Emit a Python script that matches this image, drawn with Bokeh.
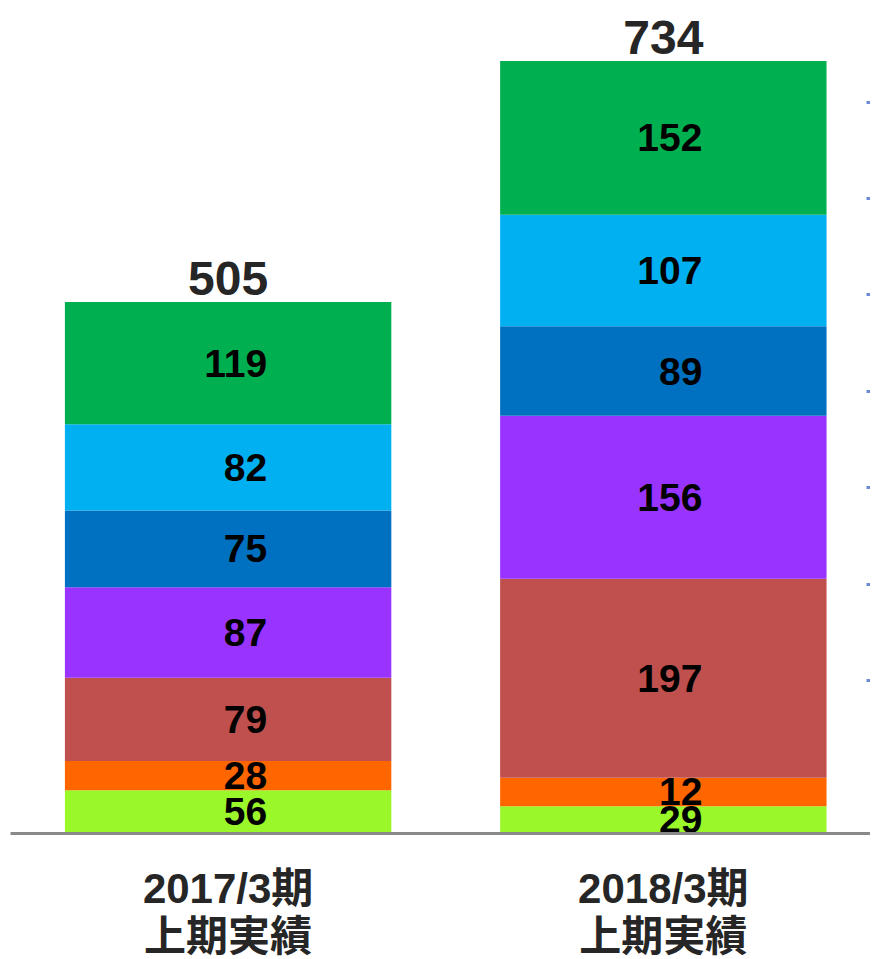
from bokeh.plotting import figure
from bokeh.models import Range1d, LinearAxis, FixedTicker, ColumnDataSource
from bokeh.core.properties import value
from bokeh.embed import file_html
from bokeh.resources import INLINE

# ---- data ----
periods = ["2017/3期\n上期実績", "2018/3期\n上期実績"]
totals = [505, 734]

# segment heights (bottom -> top)
lime_h = [41, 26]
orange_h = [28, 27]
red_h = [79, 189]
purple_h = [86, 155]
navy_h = [73, 85]
sky_h = [82, 106]
green_h = [116, 146]

# printed segment labels
lime_lbl = [56, 29]
orange_lbl = [28, 12]
red_lbl = [79, 197]
purple_lbl = [87, 156]
navy_lbl = [75, 89]
sky_lbl = [82, 107]
green_lbl = [119, 152]

right_ticks = [1, 2, 3, 4, 5, 6, 7, 8]

# ---- styling ----
colors = ["#9AF82A", "#FF6600", "#C0504D", "#9933FF", "#0070C0", "#00B0F0", "#00B050"]
FONT = "Liberation Sans, Noto Sans CJK JP"

heights = [lime_h, orange_h, red_h, purple_h, navy_h, sky_h, green_h]
labels = [lime_lbl, orange_lbl, red_lbl, purple_lbl, navy_lbl, sky_lbl, green_lbl]
keys = ["lime", "orange", "red", "purple", "navy", "sky", "green"]

xpos = [0.5 + i for i in range(len(periods))]
data = {"x": xpos}
for k, h in zip(keys, heights):
    data[k] = h
src = ColumnDataSource(data)

p = figure(frame_width=860, frame_height=825, output_backend="svg", toolbar_location=None,
           x_range=Range1d(0, 1.976), y_range=Range1d(0, 784),
           min_border_left=10, min_border_right=0, min_border_top=8, min_border_bottom=0)
p.outline_line_color = None
p.grid.visible = False
p.yaxis.visible = False

p.vbar_stack(keys, x="x", width=0.75, source=src, color=colors, line_color=None)

# segment labels
for i, (h, lbl) in enumerate(zip(heights, labels)):
    bottoms = [sum(heights[j][b] for j in range(i)) for b in range(len(periods))]
    mids = [bottoms[b] + h[b] / 2 for b in range(len(periods))]
    s = ColumnDataSource({"x": xpos, "y": mids, "t": [str(v) for v in lbl]})
    p.text(x="x", y="y", text="t", source=s, text_align="right", text_baseline="middle",
           x_offset=39, text_font=value(FONT), text_font_size="39px", text_font_style="bold",
           text_color="#000000")

# totals
ts = ColumnDataSource({"x": xpos, "y": [sum(heights[j][b] for j in range(len(heights))) for b in range(len(periods))],
                       "t": [str(v) for v in totals]})
p.text(x="x", y="y", text="t", source=ts, text_align="center", text_baseline="middle",
       y_offset=-24, text_font=value(FONT), text_font_size="48px", text_font_style="bold",
       text_color="#262626")

# x axis
xa = p.xaxis[0]
xa.ticker = FixedTicker(ticks=xpos)
xa.major_label_overrides = {x: lab for x, lab in zip(xpos, periods)}
xa.major_tick_line_color = None
xa.minor_tick_line_color = None
xa.axis_line_color = "#898989"
xa.axis_line_width = 3
xa.major_label_text_font = FONT
xa.major_label_text_font_size = "42px"
xa.major_label_text_line_height = 1.04
xa.major_label_text_font_style = "bold"
xa.major_label_text_color = "#262626"
xa.major_label_standoff = 25

# right hidden axis with small tick marks
p.extra_y_ranges = {"r": Range1d(-0.587, -0.587 + 825 / 96.4)}
ra = LinearAxis(y_range_name="r", ticker=FixedTicker(ticks=right_ticks),
                major_label_overrides={t: "" for t in right_ticks}, major_label_standoff=0,
                major_tick_in=4, major_tick_out=0, axis_line_color=None,
                minor_tick_line_color=None, major_tick_line_color="#6A8AD8",
                major_tick_line_width=3)
p.add_layout(ra, "right")

open("out.html", "w").write(file_html(p, INLINE))
